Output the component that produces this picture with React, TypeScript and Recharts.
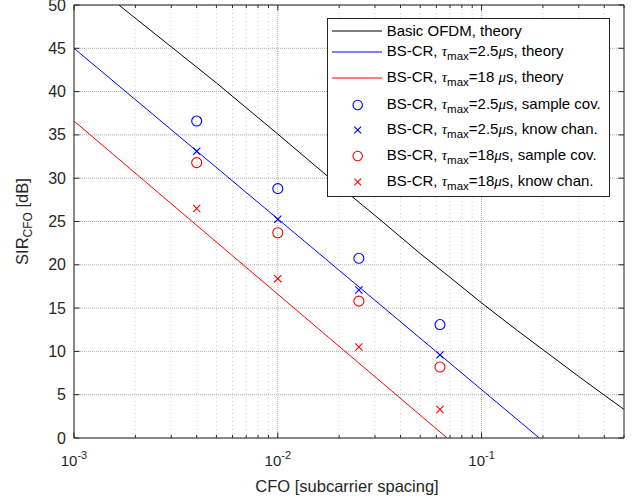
import {
  ComposedChart,
  Line,
  Scatter,
  XAxis,
  YAxis,
  CartesianGrid,
  Legend,
} from 'recharts'

// theory curves
const OFDM_CFO = [0.00166, 0.005, 0.01, 0.02, 0.03, 0.05, 0.07, 0.1, 0.15, 0.2, 0.3, 0.4, 0.5]
const OFDM_SIR = [50, 41.0, 35.1, 29.1, 25.7, 21.3, 18.55, 15.6, 12.4, 10.2, 7.1, 4.95, 3.3]
const BS25_CFO = [0.001, 0.01, 0.192]
const BS25_SIR = [45, 25.3, 0]
const BS18_CFO = [0.001, 0.01, 0.0678]
const BS18_SIR = [36.6, 16.6, 0]

// simulated points
const SIM_CFO = [0.004, 0.01, 0.025, 0.0625]
const BS25_SAMPLE = [36.6, 28.8, 20.75, 13.1]
const BS25_KNOWN = [33.1, 25.25, 17.1, 9.6]
const BS18_SAMPLE = [31.8, 23.7, 15.8, 8.2]
const BS18_KNOWN = [26.5, 18.4, 10.5, 3.3]

const X_MAJOR = [0.001, 0.01, 0.1]
const X_MINOR = [
  0.002, 0.003, 0.004, 0.005, 0.006, 0.007, 0.008, 0.009,
  0.02, 0.03, 0.04, 0.05, 0.06, 0.07, 0.08, 0.09,
  0.2, 0.3, 0.4, 0.5,
]
const X_TICKS = [...X_MAJOR, ...X_MINOR].sort((a, b) => a - b)
const Y_TICKS = [0, 5, 10, 15, 20, 25, 30, 35, 40, 45, 50]

const FONT = '"Liberation Sans", Arial, Helvetica, sans-serif'
const GREEK = '"Liberation Serif", "DejaVu Serif", serif'
const AXIS = '#262626'
const BLUE = '#0000ff'
const RED = '#ff0000'

const toPoints = (xs: number[], ys: number[]) => xs.map((x, i) => ({ x, y: ys[i] }))

const isMajor = (v: number) => X_MAJOR.includes(v)

function BottomTick({ x, y, payload }: any) {
  const major = isMajor(payload.value)
  return (
    <g>
      <line x1={x} x2={x} y1={y} y2={y - (major ? 5.5 : 3)} stroke={AXIS} />
      {major && (
        <text x={x} y={y + 28} textAnchor="middle" fontFamily={FONT} fontSize={15} fill={AXIS}>
          10
          <tspan dy={-7} fontSize={11}>
            {String(Math.round(Math.log10(payload.value)))}
          </tspan>
        </text>
      )}
    </g>
  )
}

function TopTick({ x, y, payload }: any) {
  const major = isMajor(payload.value)
  return <line x1={x} x2={x} y1={y} y2={y + (major ? 5.5 : 3)} stroke={AXIS} />
}

function LeftTick({ x, y, payload }: any) {
  return (
    <g>
      <line x1={x} x2={x + 5.5} y1={y} y2={y} stroke={AXIS} />
      <text x={x - 8} y={y + 5.5} textAnchor="end" fontFamily={FONT} fontSize={16} fill={AXIS}>
        {payload.value}
      </text>
    </g>
  )
}

function RightTick({ x, y }: any) {
  return <line x1={x} x2={x - 5.5} y1={y} y2={y} stroke={AXIS} />
}

function XTitle({ viewBox }: any) {
  return (
    <text
      x={viewBox.x + viewBox.width / 2 - 2}
      y={viewBox.y + 54}
      textAnchor="middle"
      fontFamily={FONT}
      fontSize={16.5}
      fill={AXIS}
    >
      CFO [subcarrier spacing]
    </text>
  )
}

function YTitle({ viewBox }: any) {
  const bx = viewBox.x + 28
  const cy = viewBox.y + viewBox.height / 2
  return (
    <text
      x={bx}
      y={cy}
      transform={`rotate(-90, ${bx}, ${cy})`}
      textAnchor="middle"
      fontFamily={FONT}
      fontSize={16.5}
      fill={AXIS}
    >
      SIR
      <tspan dy={4} fontSize={12}>CFO</tspan>
      <tspan dy={-4}>{' [dB]'}</tspan>
    </text>
  )
}

const ring = (color: string, r = 5) => (p: any) =>
  <circle cx={p.cx} cy={p.cy} r={r} fill="none" stroke={color} strokeWidth={1.1} />

const cross = (color: string, h = 3.6) => (p: any) => (
  <path
    d={`M${p.cx - h},${p.cy - h}L${p.cx + h},${p.cy + h}M${p.cx - h},${p.cy + h}L${p.cx + h},${p.cy - h}`}
    stroke={color}
    strokeWidth={1.1}
    fill="none"
  />
)

type LegendRow = { kind: 'line' | 'ring' | 'cross'; color: string; tau?: string; tail: string }

const LEGEND_ROWS: LegendRow[] = [
  { kind: 'line', color: '#000000', tail: 'Basic OFDM, theory' },
  { kind: 'line', color: BLUE, tau: '2.5', tail: 'theory' },
  { kind: 'line', color: RED, tau: '18 ', tail: 'theory' },
  { kind: 'ring', color: BLUE, tau: '2.5', tail: 'sample cov.' },
  { kind: 'cross', color: BLUE, tau: '2.5', tail: 'know chan.' },
  { kind: 'ring', color: RED, tau: '18', tail: 'sample cov.' },
  { kind: 'cross', color: RED, tau: '18', tail: 'know chan.' },
]
const ROW_Y = [13, 34, 60, 87, 112, 138, 164]

function LegendBox() {
  return (
    <svg width={284} height={180} style={{ display: 'block' }}>
      <rect x={0.5} y={0.5} width={282} height={178} fill="#ffffff" stroke={AXIS} />
      {LEGEND_ROWS.map((row, i) => {
        const sy = ROW_Y[i]
        const base = row.tau ? sy + 3.5 : sy + 5
        let symbol
        if (row.kind === 'line') {
          symbol = <line x1={5} x2={55} y1={sy} y2={sy} stroke={row.color} />
        } else if (row.kind === 'ring') {
          symbol = ring(row.color, 4.7)({ cx: 30.7, cy: sy })
        } else {
          symbol = cross(row.color, 3.4)({ cx: 30.7, cy: sy })
        }
        return (
          <g key={i}>
            {symbol}
            <text x={59.7} y={base} fontFamily={FONT} fontSize={15} fill="#000">
              {row.tau ? (
                <>
                  {'BS-CR, '}
                  <tspan fontFamily={GREEK} fontStyle="italic">τ</tspan>
                  <tspan dy={4} fontSize={11.5}>max</tspan>
                  <tspan dy={-4}>{'=' + row.tau}</tspan>
                  <tspan fontFamily={GREEK} fontStyle="italic">μ</tspan>
                  {'s, ' + row.tail}
                </>
              ) : (
                row.tail
              )}
            </text>
          </g>
        )
      })}
    </svg>
  )
}

export default function App() {
  return (
    <div style={{ position: 'absolute', left: 0, top: 0, background: '#fff' }}>
      <ComposedChart width={643} height={501} margin={{ top: 0, right: 0, bottom: 0, left: 0 }}>
        <CartesianGrid
          vertical
          horizontal={false}
          verticalValues={X_MINOR}
          stroke="#d2d2d2"
          strokeDasharray="1 3"
        />
        <CartesianGrid
          vertical
          verticalValues={X_MAJOR}
          horizontalValues={Y_TICKS}
          stroke="#acacac"
          strokeDasharray="1 1"
        />
        <XAxis
          dataKey="x"
          type="number"
          scale="log"
          domain={[0.001, 0.5]}
          allowDataOverflow
          ticks={X_TICKS}
          interval={0}
          height={63}
          tickSize={0}
          tickMargin={0}
          tickLine={false}
          axisLine={{ stroke: AXIS }}
          tick={<BottomTick />}
          label={<XTitle />}
        />
        <XAxis
          xAxisId="top"
          orientation="top"
          dataKey="x"
          type="number"
          scale="log"
          domain={[0.001, 0.5]}
          allowDataOverflow
          ticks={X_TICKS}
          interval={0}
          height={5}
          tickSize={0}
          tickMargin={0}
          tickLine={false}
          axisLine={{ stroke: AXIS }}
          tick={<TopTick />}
        />
        <YAxis
          dataKey="y"
          type="number"
          domain={[0, 50]}
          allowDataOverflow
          ticks={Y_TICKS}
          interval={0}
          width={74}
          tickSize={0}
          tickMargin={0}
          tickLine={false}
          axisLine={{ stroke: AXIS }}
          tick={<LeftTick />}
          label={<YTitle />}
        />
        <YAxis
          yAxisId="right"
          orientation="right"
          dataKey="y"
          type="number"
          domain={[0, 50]}
          allowDataOverflow
          ticks={Y_TICKS}
          interval={0}
          width={19}
          tickSize={0}
          tickMargin={0}
          tickLine={false}
          axisLine={{ stroke: AXIS }}
          tick={<RightTick />}
        />
        <Line
          data={toPoints(OFDM_CFO, OFDM_SIR)}
          dataKey="y"
          type="linear"
          stroke="#000000"
          strokeWidth={1}
          dot={false}
          isAnimationActive={false}
        />
        <Line
          data={toPoints(BS25_CFO, BS25_SIR)}
          dataKey="y"
          type="linear"
          stroke={BLUE}
          strokeWidth={1}
          dot={false}
          isAnimationActive={false}
        />
        <Line
          data={toPoints(BS18_CFO, BS18_SIR)}
          dataKey="y"
          type="linear"
          stroke={RED}
          strokeWidth={1}
          dot={false}
          isAnimationActive={false}
        />
        <Scatter data={toPoints(SIM_CFO, BS25_SAMPLE)} dataKey="y" shape={ring(BLUE)} isAnimationActive={false} />
        <Scatter data={toPoints(SIM_CFO, BS25_KNOWN)} dataKey="y" shape={cross(BLUE)} isAnimationActive={false} />
        <Scatter data={toPoints(SIM_CFO, BS18_SAMPLE)} dataKey="y" shape={ring(RED)} isAnimationActive={false} />
        <Scatter data={toPoints(SIM_CFO, BS18_KNOWN)} dataKey="y" shape={cross(RED)} isAnimationActive={false} />
        <Legend
          layout="vertical"
          align="center"
          verticalAlign="middle"
          content={<LegendBox />}
          wrapperStyle={{ left: 327, top: 18, width: 284, height: 180 }}
        />
      </ComposedChart>
    </div>
  )
}
